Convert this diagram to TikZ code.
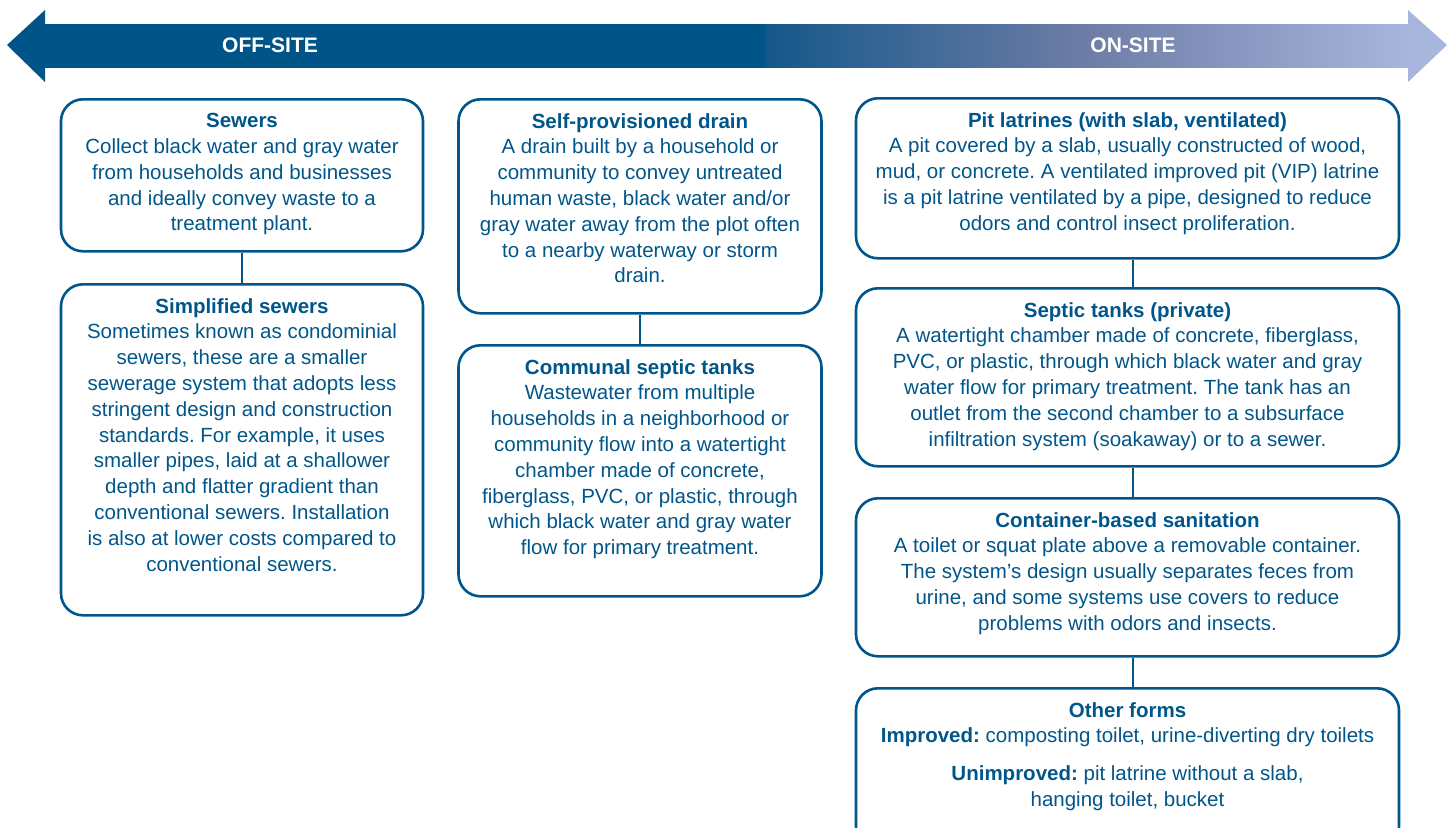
\documentclass[tikz,border=0pt]{standalone}
\usepackage{fontspec}
\setmainfont{Liberation Sans}
\usetikzlibrary{positioning}
\definecolor{mainblue}{RGB}{0,86,138}
\definecolor{lightarrow}{RGB}{168,182,222}
\definecolor{midarrow}{RGB}{0,84,136}
\definecolor{stepArrow}{RGB}{22,88,138}
\definecolor{slateArrow}{RGB}{110,125,166}
\pgfdeclarehorizontalshading{arrowshade}{100bp}{color(0bp)=(midarrow); color(25bp)=(midarrow); color(51.3bp)=(midarrow); color(51.5bp)=(stepArrow); color(63.2bp)=(slateArrow); color(75bp)=(lightarrow); color(100bp)=(lightarrow)}
\newcommand\bxtext[3]{\parbox[c][#1][t]{#2}{\centering\vspace*{14pt}#3}}
\newcommand\ttl[1]{\textbf{#1}}
\frenchspacing
\begin{document}
\begin{tikzpicture}[x=1pt,y=-1pt,
  boxshape/.style={draw=mainblue, line width=2.6pt, rounded corners=22pt, inner sep=0pt, text=mainblue,
     font=\fontsize{20.5}{25.8}\selectfont},
  conn/.style={draw=mainblue, line width=2.6pt},
  arrowlabel/.style={text=white, font=\bfseries\fontsize{21}{24}\selectfont}]
\useasboundingbox (0,0) rectangle (1453,827);
% arrow
\fill[midarrow] (7,45) -- (45,10) -- (45,24) -- (46,24) -- (46,67) -- (45,67) -- (45,82) -- cycle;
\shade[shading=arrowshade] (45,24) rectangle (1409,67);
\fill[lightarrow] (1408,10) -- (1447,45) -- (1408,82) -- cycle;
\node[arrowlabel] (off) at (270,45) {OFF-SITE};
\node[arrowlabel] (on) at (1133,45) {ON-SITE};
% column 1
\node[boxshape, anchor=north] (sew) at (242,98) {\bxtext{152pt}{362pt}{\ttl{Sewers}\\Collect black water and gray water\\from households and businesses\\and ideally convey waste to a\\treatment plant.}};
\node[boxshape, anchor=north] (simp) at (242,283) {\bxtext{331pt}{362pt}{\ttl{Simplified sewers}\\Sometimes known as condominial\\sewers, these are a smaller\\sewerage system that adopts less\\stringent design and construction\\standards. For example, it uses\\smaller pipes, laid at a shallower\\depth and flatter gradient than\\conventional sewers. Installation\\is also at lower costs compared to\\conventional sewers.}};
\draw[conn] (sew.south) -- (simp.north);
% column 2
\node[boxshape, anchor=north] (drain) at (640,98) {\bxtext{214pt}{363pt}{\ttl{Self-provisioned drain}\\A drain built by a household or\\community to convey untreated\\human waste, black water and/or\\gray water away from the plot often\\to a nearby waterway or storm\\drain.}};
\node[boxshape, anchor=north] (comm) at (640,344) {\bxtext{251pt}{363pt}{\ttl{Communal septic tanks}\\Wastewater from multiple\\households in a neighborhood or\\community flow into a watertight\\chamber made of concrete,\\fiberglass, PVC, or plastic, through\\which black water and gray water\\flow for primary treatment.}};
\draw[conn] (drain.south) -- (comm.north);
% column 3
\node[boxshape, anchor=north] (pit) at (1127.5,97) {\bxtext{160pt}{543pt}{\ttl{Pit latrines (with slab, ventilated)}\\A pit covered by a slab, usually constructed of wood,\\mud, or concrete. A ventilated improved pit (VIP) latrine\\is a pit latrine ventilated by a pipe, designed to reduce\\odors and control insect proliferation.}};
\node[boxshape, anchor=north] (sept) at (1127.5,287) {\bxtext{178pt}{543pt}{\ttl{Septic tanks (private)}\\A watertight chamber made of concrete, fiberglass,\\PVC, or plastic, through which black water and gray\\water flow for primary treatment. The tank has an\\outlet from the second chamber to a subsurface\\infiltration system (soakaway) or to a sewer.}};
\node[boxshape, anchor=north] (cont) at (1127.5,497) {\bxtext{158pt}{543pt}{\ttl{Container-based sanitation}\\A toilet or squat plate above a removable container.\\The system's design usually separates feces from\\urine, and some systems use covers to reduce\\problems with odors and insects.}};
\node[boxshape, anchor=north] (other) at (1127.5,687) {\bxtext{160pt}{543pt}{\ttl{Other forms}\\\ttl{Improved:} composting toilet, urine-diverting dry toilets\\[12pt]\ttl{Unimproved:} pit latrine without a slab,\\hanging toilet, bucket}};
\draw[conn] ([xshift=5.5pt]pit.south) -- ([xshift=5.5pt]sept.north);
\draw[conn] ([xshift=5.5pt]sept.south) -- ([xshift=5.5pt]cont.north);
\draw[conn] ([xshift=5.5pt]cont.south) -- ([xshift=5.5pt]other.north);
\end{tikzpicture}
\end{document}
